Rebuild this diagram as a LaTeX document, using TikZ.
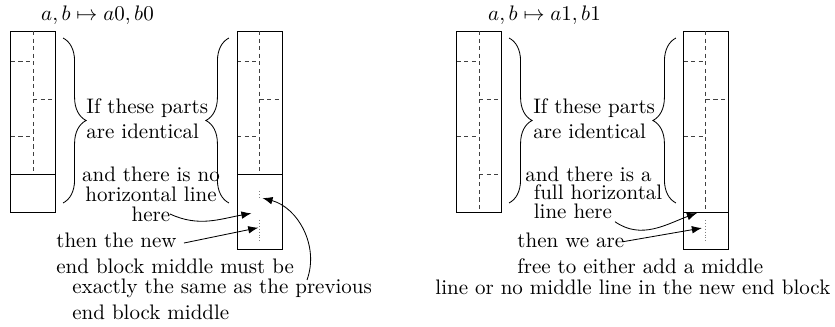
\documentclass[tikz,border=0pt]{standalone}
\usepackage{amsmath,amssymb}
\usetikzlibrary{decorations.pathreplacing,arrows.meta}

\begin{document}
\begin{tikzpicture}[
  >=Latex,
  txt/.style={inner sep=0pt,align=left},
  dashline/.style={dash pattern=on 2pt off 1.6pt,black!75},
  midline/.style={densely dotted,gray},
  bracket/.style={decorate,decoration={brace,amplitude=11pt}},
  pointer/.style={->},
]
\useasboundingbox (0,0) rectangle (13.978,-5.474);

% ===================================================================
% Blocks: shared dashed partition of the upper part
% ===================================================================
\foreach \x in {0.18,3.97,7.645,11.44} {
  \draw[dashline] (\x,-1.03) -- (\x+0.375,-1.03);
  \draw[dashline] (\x+0.375,-1.66) -- (\x+0.75,-1.66);
  \draw[dashline] (\x,-2.29) -- (\x+0.375,-2.29);
}

% Left pair (a0,b0)
\draw (0.18,-0.52) rectangle (0.93,-3.55);
\draw (0.18,-2.92) -- (0.93,-2.92);
\draw[dashline] (0.555,-0.52) -- (0.555,-2.92);

\draw (3.97,-0.52) rectangle (4.72,-4.18);
\draw (3.97,-2.92) -- (4.72,-2.92);
\draw[dashline] (4.345,-0.52) -- (4.345,-2.92);
\draw[midline] (4.345,-3.20) -- (4.345,-3.33);
\draw[midline] (4.345,-3.68) -- (4.345,-4.07);

% Right pair (a1,b1)
\draw (7.645,-0.52) rectangle (8.395,-3.55);
\draw[dashline] (8.02,-0.52) -- (8.02,-3.55);
\draw[dashline] (8.02,-2.92) -- (8.395,-2.92);

\draw (11.44,-0.52) rectangle (12.19,-4.18);
\draw (11.44,-3.55) -- (12.19,-3.55);
\draw[dashline] (11.815,-0.52) -- (11.815,-3.55);
\draw[midline] (11.815,-3.68) -- (11.815,-4.07);

% ===================================================================
% Braces
% ===================================================================
\draw[bracket] (1.055,-0.636) -- (1.055,-3.398);
\draw[bracket] (3.833,-3.398) -- (3.833,-0.636);
\draw[bracket] (8.521,-0.636) -- (8.521,-3.398);
\draw[bracket] (11.316,-3.398) -- (11.316,-0.636);

% ===================================================================
% Text
% ===================================================================
\node (mapL) [anchor=base] at (1.632,-0.34) {$a,b\mapsto a0,b0$};
\node (mapR) [anchor=base] at (9.115,-0.34) {$a,b\mapsto a1,b1$};

\node (partsL) [txt,anchor=north west] at (1.440,-1.647) {If these parts\\are identical};
\node (partsR) [txt,anchor=north west] at (8.922,-1.647) {If these parts\\are identical};

\node (lineL) [txt,align=center,anchor=north] at (2.528,-2.786)
  {and there is no\\[-2.4pt]horizontal line\\[-2.7pt]here};
\node (lineR) [txt,anchor=north west] at (8.789,-2.786)
  {and there is a\\[-3.2pt]\hspace{4pt}full horizontal\\[-3.2pt]\hspace{4pt}line here};

\node (thenL) [txt,anchor=north west] at (0.937,-3.90) {then the new\\end block middle must be};
\node (prevL) [txt,anchor=north west] at (1.205,-4.67) {exactly the same as the previous\\end block middle};

\node (thenR) [txt,anchor=north west] at (8.655,-3.90) {then we are\\free to either add a middle};
\node (lastR) [txt,anchor=north west] at (7.282,-4.68) {line or no middle line in the new end block};

% ===================================================================
% Pointers
% ===================================================================
\coordinate (hereL) at (2.846,-3.582);
\coordinate (gapL)  at (4.210,-3.571);
\coordinate (newL)  at (3.080,-4.068);
\coordinate (midL)  at (4.324,-3.812);
\coordinate (prevtail) at (5.139,-4.687);
\coordinate (prevmid)  at (4.394,-3.315);

\draw[pointer] (hereL) to[out=-25,in=190] (gapL);
\draw[pointer] (newL) -- (midL);
\draw[pointer] (prevtail) to[out=70,in=-15] (prevmid);

\coordinate (hereR) at (10.295,-3.711);
\coordinate (lineend) at (11.668,-3.566);
\coordinate (areR) at (10.429,-4.046);
\coordinate (midR) at (11.751,-3.817);

\draw[pointer] (hereR) to[out=-35,in=200] (lineend);
\draw[pointer] (areR) -- (midR);

\end{tikzpicture}
\end{document}
